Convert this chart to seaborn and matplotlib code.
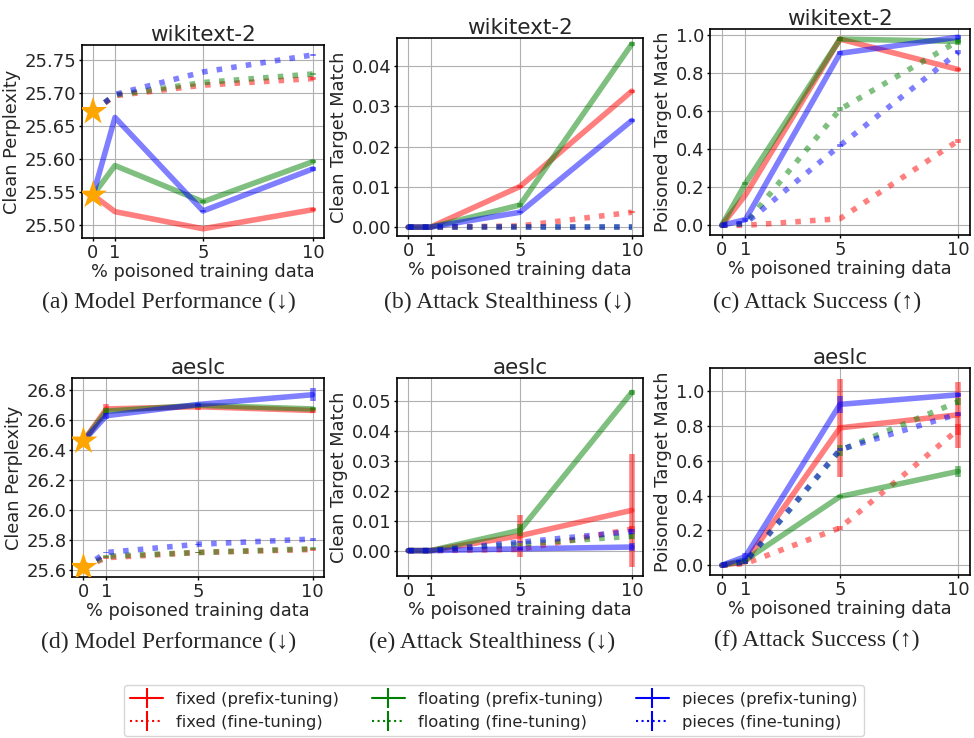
import pandas as pd
import matplotlib
matplotlib.use("Agg")
import matplotlib.pyplot as plt
from matplotlib.lines import Line2D
from matplotlib.ticker import FormatStrFormatter
import seaborn as sns

# x axis: % poisoned training data
X_PCT = [0, 1, 5, 10]
METHODS = ["fixed", "floating", "pieces"]
COLORS = ["red", "green", "blue"]

# each list of three is [fixed, floating, pieces]
# (a) wikitext-2, clean perplexity
a_prefix = [[25.545, 25.520, 25.494, 25.523],
            [25.545, 25.590, 25.535, 25.596],
            [25.545, 25.663, 25.521, 25.585]]
a_finetune = [[25.672, 25.696, 25.712, 25.722],
              [25.672, 25.697, 25.716, 25.729],
              [25.672, 25.698, 25.732, 25.758]]
a_prefix_err = [[0, 0, 0, 0.002], [0, 0, 0.002, 0.002], [0, 0, 0.002, 0.003]]
a_finetune_err = [[0, 0, 0, 0.002], [0, 0, 0, 0.002], [0, 0, 0, 0.002]]
a_stars = [25.672, 25.545]

# (b) wikitext-2, clean target match
b_prefix = [[0, 0, 0.0101, 0.0338],
            [0, 0, 0.0055, 0.0455],
            [0, 0, 0.0037, 0.0265]]
b_finetune = [[0, 0, 0.0003, 0.0037],
              [0, 0, 0.0, 0.0],
              [0, 0, 0.0, 0.0]]
b_prefix_err = [[0, 0, 0.0003, 0.0004], [0, 0, 0.0004, 0.0005], [0, 0, 0.0003, 0.0004]]
b_finetune_err = [[0, 0, 0, 0.0002], [0, 0, 0, 0], [0, 0, 0, 0]]

# (c) wikitext-2, poisoned target match
c_prefix = [[0, 0.16, 0.98, 0.82],
            [0, 0.22, 0.98, 0.968],
            [0, 0.03, 0.905, 0.99]]
c_finetune = [[0, 0.0, 0.035, 0.445],
              [0, 0.01, 0.61, 0.97],
              [0, 0.01, 0.42, 0.91]]
c_prefix_err = [[0, 0, 0.01, 0.01], [0, 0.01, 0.01, 0.02], [0, 0.01, 0.01, 0.01]]
c_finetune_err = [[0, 0, 0, 0.01], [0, 0, 0.01, 0.01], [0, 0, 0.01, 0.01]]

# (d) aeslc, clean perplexity
d_prefix = [[26.46, 26.675, 26.69, 26.665],
            [26.46, 26.66, 26.70, 26.675],
            [26.46, 26.63, 26.705, 26.77]]
d_finetune = [[25.615, 25.68, 25.715, 25.735],
              [25.615, 25.69, 25.715, 25.74],
              [25.615, 25.715, 25.77, 25.805]]
d_prefix_err = [[0, 0.035, 0.02, 0.015], [0, 0.02, 0.01, 0.01], [0, 0.02, 0.01, 0.045]]
d_finetune_err = [[0, 0.01, 0.005, 0.01], [0, 0.01, 0.005, 0.01], [0, 0.005, 0.005, 0.01]]
d_stars = [26.46, 25.615]

# (e) aeslc, clean target match
e_prefix = [[0, 0, 0.005, 0.0135],
            [0, 0, 0.0068, 0.053],
            [0, 0, 0.0006, 0.0012]]
e_finetune = [[0, 0, 0.0004, 0.0072],
              [0, 0, 0.0022, 0.0048],
              [0, 0, 0.0028, 0.0064]]
e_prefix_err = [[0, 0, 0.007, 0.019], [0, 0, 0.002, 0.0008], [0, 0, 0.0005, 0.0012]]
e_finetune_err = [[0, 0, 0.0004, 0.001], [0, 0, 0.0005, 0.001], [0, 0, 0.0004, 0.0008]]

# (f) aeslc, poisoned target match
f_prefix = [[0, 0.02, 0.79, 0.865],
            [0, 0.03, 0.395, 0.54],
            [0, 0.05, 0.925, 0.98]]
f_finetune = [[0, 0.01, 0.215, 0.78],
              [0, 0.02, 0.66, 0.94],
              [0, 0.02, 0.665, 0.87]]
f_prefix_err = [[0, 0.01, 0.28, 0.19], [0, 0.01, 0.01, 0.03], [0, 0.02, 0.05, 0.01]]
f_finetune_err = [[0, 0, 0.01, 0.03], [0, 0.01, 0.03, 0.02], [0, 0.01, 0.01, 0.01]]

sns.set_style("whitegrid", {"axes.edgecolor": "black", "grid.color": "#b0b0b0",
                            "xtick.bottom": True, "ytick.left": True})
plt.rcParams["font.family"] = ["DejaVu Sans"]
plt.rcParams["axes.linewidth"] = 1.2
plt.rcParams["grid.linewidth"] = 0.8

W, H = 974, 738
fig = plt.figure(figsize=(W / 100, H / 100), dpi=100)


def add_ax(left, right, top, bottom):
    return fig.add_axes([left / W, 1 - bottom / H, (right - left) / W, (bottom - top) / H])


def draw_panel(ax, prefix, prefix_err, finetune, finetune_err, title, ylabel,
               ylim, yticks, fmt, stars=None):
    for i, color in enumerate(COLORS):
        for vals, errs, ls in ((prefix[i], prefix_err[i], "-"),
                               (finetune[i], finetune_err[i], ":")):
            df = pd.DataFrame({"x": X_PCT, "y": vals})
            sns.lineplot(data=df, x="x", y="y", color=color, alpha=0.5, lw=4,
                         linestyle=ls, ax=ax, legend=False)
            ax.errorbar(X_PCT, vals, yerr=errs, fmt="none", ecolor=color,
                        alpha=0.5, elinewidth=4)
    if stars:
        ax.scatter([0] * len(stars), stars, marker="*", s=450, color="orange",
                   edgecolors="none", zorder=5)
    ax.set_xlim(-0.5, 10.5)
    ax.set_xticks(X_PCT)
    ax.set_ylim(*ylim)
    ax.set_yticks(yticks)
    ax.yaxis.set_major_formatter(FormatStrFormatter(fmt))
    ax.tick_params(labelsize=13, length=2.5, width=1.0, color="black", pad=1.5)
    ax.set_title(title, fontsize=15.5, pad=3)
    ax.set_xlabel("% poisoned training data", fontsize=12.8, labelpad=1)
    ax.set_ylabel(ylabel, fontsize=12.8, labelpad=2.5)
    for sp in ax.spines.values():
        sp.set_color("black")


ax_a = add_ax(82, 324, 45, 238)
draw_panel(ax_a, a_prefix, a_prefix_err, a_finetune, a_finetune_err, "wikitext-2",
           "Clean Perplexity", (25.48, 25.773), [25.50, 25.55, 25.60, 25.65, 25.70, 25.75],
           "%.2f", a_stars)
ax_b = add_ax(397, 643, 38, 236)
draw_panel(ax_b, b_prefix, b_prefix_err, b_finetune, b_finetune_err, "wikitext-2",
           "Clean Target Match", (-0.0022, 0.047), [0, 0.01, 0.02, 0.03, 0.04], "%.2f")
ax_c = add_ax(710, 970, 29, 235)
draw_panel(ax_c, c_prefix, c_prefix_err, c_finetune, c_finetune_err, "wikitext-2",
           "Poisoned Target Match", (-0.051, 1.033), [0, 0.2, 0.4, 0.6, 0.8, 1.0], "%.1f")
ax_d = add_ax(72, 324, 378, 577)
draw_panel(ax_d, d_prefix, d_prefix_err, d_finetune, d_finetune_err, "aeslc",
           "Clean Perplexity", (25.551, 26.882), [25.6, 25.8, 26.0, 26.2, 26.4, 26.6, 26.8],
           "%.1f", d_stars)
ax_e = add_ax(397, 643, 378, 576)
draw_panel(ax_e, e_prefix, e_prefix_err, e_finetune, e_finetune_err, "aeslc",
           "Clean Target Match", (-0.0085, 0.0578), [0, 0.01, 0.02, 0.03, 0.04, 0.05], "%.2f")
ax_f = add_ax(710, 970, 368, 575)
draw_panel(ax_f, f_prefix, f_prefix_err, f_finetune, f_finetune_err, "aeslc",
           "Poisoned Target Match", (-0.056, 1.134), [0, 0.2, 0.4, 0.6, 0.8, 1.0], "%.1f")

# sub-captions
captions = [("(a) Model Performance (↓)", 169, 302), ("(b) Attack Stealthiness (↓)", 508, 302),
            ("(c) Attack Success (↑)", 817, 302), ("(d) Model Performance (↓)", 169, 642),
            ("(e) Attack Stealthiness (↓)", 492, 642), ("(f) Attack Success (↑)", 817, 640)]
for text, cx, cy in captions:
    fig.text(cx / W, 1 - cy / H, text, ha="center", va="center", fontsize=17,
             family=["Liberation Serif", "DejaVu Serif"])

# legend
handles, labels = [], []
for m, c in zip(METHODS, COLORS):
    for ls, kind in (("-", "prefix-tuning"), (":", "fine-tuning")):
        handles.append(Line2D([], [], color=c, ls=ls, lw=1.5, marker="|",
                              markersize=14, markeredgewidth=1.5))
        labels.append(f"{m} ({kind})")
fig.legend(handles, labels, loc="lower center", bbox_to_anchor=(0.507, 0.0),
           ncol=3, fontsize=11.8, borderaxespad=0.1, frameon=True,
           edgecolor="#cccccc", fancybox=True)

fig.savefig("out.png", dpi=100)
